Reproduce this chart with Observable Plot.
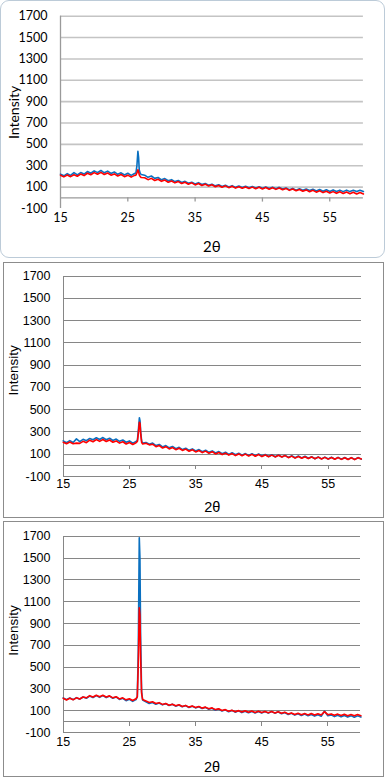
<!DOCTYPE html>
<html>
<head>
<meta charset="utf-8">
<script src="https://cdn.jsdelivr.net/npm/d3@7"></script>
<script src="https://cdn.jsdelivr.net/npm/@observablehq/plot@0.6"></script>
<style>
  html, body { margin: 0; padding: 0; background: #fff; }
  #page { position: relative; width: 385px; height: 779px; overflow: hidden; }
  .panel { position: absolute; box-sizing: border-box; background: #fff; }
  .panel svg { position: absolute; left: 0; top: 0; }
</style>
</head>
<body>
<div id="page"></div>
<script>
// 2θ positions (shared by all series)
const theta = [
  15,15.5,16,16.5,17,17.5,18,18.5,19,19.5,
  20,20.5,21,21.5,22,22.5,23,23.5,24,24.5,
  25,25.5,26,
  26.2,26.35,26.5,26.6,26.7,26.85,27,
  27.5,28,28.5,29,29.5,30,30.5,31,31.5,32,
  32.5,33,33.5,34,34.5,35,35.5,36,36.5,37,
  37.5,38,38.5,39,39.5,40,40.5,41,41.5,42,
  42.5,43,43.5,44,44.5,45,45.5,46,46.5,47,
  47.5,48,48.5,49,49.5,50,50.5,51,51.5,52,
  52.5,53,53.5,54,54.5,55,55.5,56,56.5,57,
  57.5,58,58.5,59,59.5,60
];

// Panel 1 (top)
const blue1 = [
  222,206,226,210,236,214,236,222,246,230,
  252,236,256,234,250,228,242,220,234,214,
  230,210,228,
  232,300,435,380,260,228,218,
  212,192,204,182,190,168,180,160,170,152,
  162,144,154,136,146,130,142,124,134,118,
  128,112,122,106,118,102,114,98,110,96,
  108,94,106,92,104,90,102,88,100,86,
  98,82,92,76,88,72,84,70,82,68,
  80,64,78,62,76,60,74,60,72,58,
  72,58,70,58,70,60
];
const red1 = [
  212,196,214,198,216,202,222,208,230,216,
  236,220,238,218,232,212,224,204,218,198,
  212,194,210,
  212,232,262,245,215,198,190,
  188,170,182,162,174,154,166,146,158,140,
  152,134,146,127,140,121,134,115,128,110,
  122,104,116,99,112,95,108,91,104,89,
  102,87,100,85,98,83,96,81,94,79,
  92,76,88,70,82,66,78,61,74,57,
  70,53,66,49,62,45,58,42,56,40,
  54,38,52,36,50,36
];

// Panel 2 (middle)
const blue2 = [
  220,204,222,206,238,214,234,222,242,230,
  248,232,250,230,244,224,236,216,228,208,
  220,200,214,
  225,320,428,400,300,215,200,
  206,190,200,178,188,166,178,158,170,150,
  162,142,154,135,148,129,142,123,136,117,
  130,111,124,105,118,99,113,95,109,92,
  106,89,104,87,102,84,98,80,95,78,
  93,76,90,72,86,69,84,67,82,64,
  78,60,75,58,74,57,73,56,72,55,
  71,54,70,54,70,56
];
const red2 = [
  208,194,210,194,200,198,216,204,226,212,
  232,216,232,214,228,208,220,200,212,192,
  206,188,204,
  215,290,388,375,280,205,192,
  198,184,190,168,178,156,168,148,160,141,
  154,134,146,127,140,121,134,115,128,109,
  122,103,116,97,110,92,106,88,103,86,
  101,84,99,82,97,79,94,77,92,76,
  91,75,88,69,83,65,80,64,78,61,
  76,59,74,57,72,56,71,55,70,54,
  69,53,68,52,68,58
];

// Panel 3 (bottom)
const blue3 = [
  220,204,220,204,222,208,228,216,236,222,
  240,224,240,222,236,216,228,206,216,194,
  206,188,204,
  230,650,1686,1500,800,280,200,
  184,168,178,162,173,156,167,150,161,144,
  155,138,149,132,144,128,139,122,133,115,
  125,107,117,99,110,93,105,89,101,85,
  98,83,96,82,95,81,94,80,94,80,
  92,75,85,67,78,62,74,58,71,56,
  68,53,66,52,98,56,64,48,61,46,
  59,44,57,42,55,44
];
const red3 = [
  216,200,216,202,220,210,228,220,240,228,
  244,230,244,228,238,220,230,210,220,202,
  212,196,212,
  230,520,1045,980,600,260,205,
  192,177,184,168,176,160,168,153,162,147,
  156,141,150,135,145,131,141,126,135,120,
  128,112,120,104,112,97,107,93,103,90,
  101,88,99,86,98,85,96,84,95,82,
  93,79,88,73,82,68,79,66,77,64,
  76,63,75,63,94,66,73,60,71,58,
  70,57,68,56,67,57
];

const yTickValues = [-100,100,300,500,700,900,1100,1300,1500,1700];
const gridValues = [100,300,500,700,900,1100,1300,1500,1700];
const xTickValues = [15,25,35,45,55];
const xMinorTicks = [25,35,45,55];
const xLabel = "2θ";
const yLabel = "Intensity";

const BLUE = "#0a70c0";
const RED = "#ff0000";

const panels = [
  {
    blue: blue1, red: red1,
    left: 0, top: 0, w: 385, h: 258,
    border: "1px solid #bccbd8", radius: "9px",
    mL: 59, mR: 21.1, mT: 14.7, mB: 49,
    font: "Lato, 'Open Sans', sans-serif", fs: 12.5, labelFs: 14,
    grid: "#c4c4c4", gridW: 1.6, axis: "#9a9a9a", axisW: 1.3, bottomGrid: false,
    yPad: 13, xPad: 5, yLabelX: 13, yLabelDy: 0, xLabelDy: 39
  },
  {
    blue: blue2, red: red2,
    left: 3, top: 262, w: 381, h: 256,
    border: "1px solid #8c8c8c", radius: "0",
    mL: 58.7, mR: 22.2, mT: 12.7, mB: 41,
    font: "'Liberation Sans', Arial, sans-serif", fs: 12.5, labelFs: 13.5,
    grid: "#868686", gridW: 1, axis: "#868686", axisW: 1, bottomGrid: true,
    yPad: 12.7, xPad: 3, yLabelX: 9.3, yLabelDy: -6, xLabelDy: 31
  },
  {
    blue: blue3, red: red3,
    left: 3, top: 521, w: 381, h: 256,
    border: "1px solid #8c8c8c", radius: "0",
    mL: 58.7, mR: 22.6, mT: 13.7, mB: 43.7,
    font: "'Liberation Sans', Arial, sans-serif", fs: 12.5, labelFs: 13.5,
    grid: "#868686", gridW: 1, axis: "#868686", axisW: 1, bottomGrid: true,
    yPad: 12.7, xPad: 4.5, yLabelX: 9.3, yLabelDy: -4, xLabelDy: 34.7
  }
];

const page = document.getElementById("page");

for (const p of panels) {
  const table = theta.map((t, i) => ({t, a: p.blue[i], b: p.red[i]}));
  const innerW = p.w - 2, innerH = p.h - 2;
  const div = document.createElement("div");
  div.className = "panel";
  div.style.left = p.left + "px";
  div.style.top = p.top + "px";
  div.style.width = p.w + "px";
  div.style.height = p.h + "px";
  div.style.border = p.border;
  div.style.borderRadius = p.radius;

  const crisp = p.bottomGrid ? "crispEdges" : "auto";
  const gv = p.bottomGrid ? [-100, ...gridValues] : gridValues;

  const chart = Plot.plot({
    width: innerW,
    height: innerH,
    marginLeft: p.mL,
    marginRight: p.mR,
    marginTop: p.mT,
    marginBottom: p.mB,
    style: {fontFamily: p.font, fontSize: p.fs + "px", color: "#000", background: "transparent", overflow: "visible"},
    x: {domain: [15, 60]},
    y: {domain: [-100, 1700]},
    marks: [
      Plot.ruleY(gv, {stroke: p.grid, strokeWidth: p.gridW, shapeRendering: crisp}),
      Plot.ruleY([0], {stroke: p.axis, strokeWidth: p.axisW, shapeRendering: crisp}),
      Plot.ruleX([15], {stroke: p.axis, strokeWidth: p.axisW, shapeRendering: crisp}),
      Plot.ruleX(xMinorTicks, {y1: 0, y2: -40, stroke: p.axis, strokeWidth: p.axisW, shapeRendering: crisp}),
      Plot.line(table, {x: "t", y: "a", stroke: BLUE, strokeWidth: 1.6}),
      Plot.line(table, {x: "t", y: "b", stroke: RED, strokeWidth: 1.6}),
      Plot.axisY(yTickValues, {tickSize: 0, tickPadding: p.yPad, label: null, fill: "#000", fontSize: p.fs, tickFormat: d => String(d)}),
      Plot.axisX(xTickValues, {tickSize: 0, tickPadding: p.xPad, label: null, fill: "#000", fontSize: p.fs, tickFormat: d => String(d)}),
      Plot.text([yLabel], {frameAnchor: "left", rotate: -90, dx: p.yLabelX - p.mL, dy: p.yLabelDy, fontSize: p.labelFs, fill: "#000", lineAnchor: "middle", textAnchor: "middle"}),
      Plot.text([xLabel], {frameAnchor: "bottom", dy: p.xLabelDy, fontSize: p.labelFs + 1, fill: "#000", lineAnchor: "middle", textAnchor: "middle"})
    ]
  });
  div.appendChild(chart);
  page.appendChild(div);
}
</script>
</body>
</html>
